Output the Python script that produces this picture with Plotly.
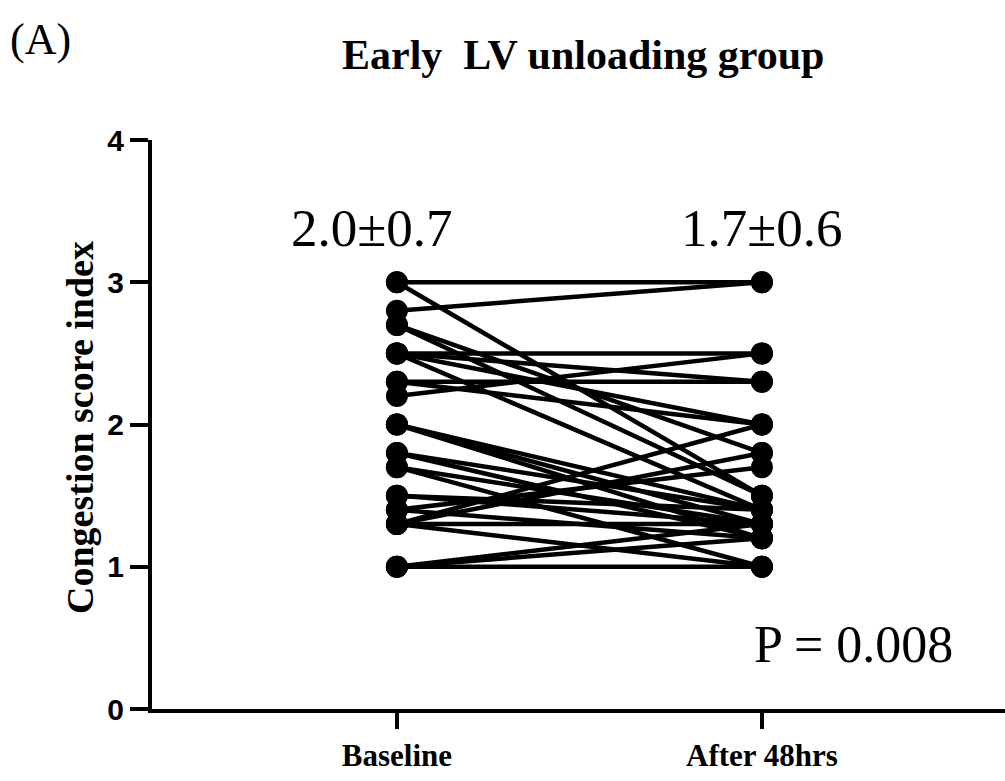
import plotly.graph_objects as go

categories = ["Baseline", "After 48hrs"]
baseline = [3.0, 3.0, 2.8, 2.7, 2.7, 2.5, 2.5, 2.5, 2.5, 2.3, 2.3, 2.2, 2.0, 2.0, 2.0,
            1.8, 1.8, 1.7, 1.7, 1.5, 1.5, 1.4, 1.4, 1.3, 1.3, 1.3, 1.3, 1.0, 1.0, 1.0]
after48 = [3.0, 1.5, 3.0, 1.8, 1.5, 2.5, 2.3, 2.0, 1.4, 2.3, 2.0, 2.5, 1.3, 1.4, 1.2,
           1.4, 1.2, 1.3, 1.0, 1.4, 1.3, 1.7, 1.2, 2.0, 1.3, 1.8, 1.0, 1.0, 1.3, 1.2]
y_ticks = [0, 1, 2, 3, 4]
summary = ["2.0±0.7", "1.7±0.6"]
p_text = "P = 0.008"

xs, ys = [], []
for b, a in zip(baseline, after48):
    xs += [0, 1, None]
    ys += [b, a, None]

fig = go.Figure()
fig.add_trace(go.Scatter(x=xs, y=ys, mode="lines",
                         line=dict(color="black", width=4.5),
                         hoverinfo="skip", showlegend=False))
fig.add_trace(go.Scatter(x=[0] * len(baseline) + [1] * len(after48),
                         y=baseline + after48, mode="markers",
                         marker=dict(color="black", size=22),
                         showlegend=False))

W, H = 1005, 781
ml, mr, mt, mb = 152, 0, 140, 72
pw, ph = W - ml - mr, H - mt - mb

def px2paper(px, py):
    return (px - ml) / pw, 1 - (py - mt) / ph

ax, ay = px2paper(8, 40)
tx, ty = px2paper(583, 55)
yx, yy = px2paper(80, 428)

fig.update_layout(
    width=W, height=H,
    margin=dict(l=ml, r=mr, t=mt, b=mb),
    paper_bgcolor="white", plot_bgcolor="white",
    xaxis=dict(range=[-0.671, 1.666], tickvals=[0, 1], ticktext=[f"<b>{c}</b>" for c in categories],
               showgrid=False, zeroline=False, showline=True, linecolor="black", linewidth=4,
               ticks="outside", ticklen=16, tickwidth=4, tickcolor="black",
               tickfont=dict(family="Liberation Serif", size=31, color="black")),
    yaxis=dict(range=[0, 4], tickvals=y_ticks, ticktext=[f"<b>{t}</b>" for t in y_ticks],
               showgrid=False, zeroline=False, showline=True, linecolor="black", linewidth=4,
               ticks="outside", ticklen=18, tickwidth=4, tickcolor="black",
               tickfont=dict(family="Liberation Sans", size=30, color="black")),
    annotations=[
        dict(text="(A)", x=ax, y=ay, xref="paper", yref="paper", showarrow=False,
             font=dict(family="Liberation Serif", size=44, color="black"), xanchor="left", yanchor="middle"),
        dict(text="<b>Early  LV unloading group</b>", x=tx, y=ty, xref="paper", yref="paper",
             showarrow=False, font=dict(family="Liberation Serif", size=42, color="black"),
             xanchor="center", yanchor="middle"),
        dict(text="<b>Congestion score index</b>", x=yx, y=yy, xref="paper", yref="paper",
             showarrow=False, textangle=-90, font=dict(family="Liberation Serif", size=38, color="black"),
             xanchor="center", yanchor="middle"),
        dict(text=summary[0], x=0, y=3.38, xref="x", yref="y", showarrow=False, xshift=-25,
             font=dict(family="Liberation Serif", size=53, color="black"), yanchor="middle"),
        dict(text=summary[1], x=1, y=3.38, xref="x", yref="y", showarrow=False,
             font=dict(family="Liberation Serif", size=53, color="black"), yanchor="middle"),
        dict(text=p_text, x=1.25, y=0.45, xref="x", yref="y", showarrow=False,
             font=dict(family="Liberation Serif", size=52, color="black"), yanchor="middle"),
    ],
)

fig.write_html("out.html")
